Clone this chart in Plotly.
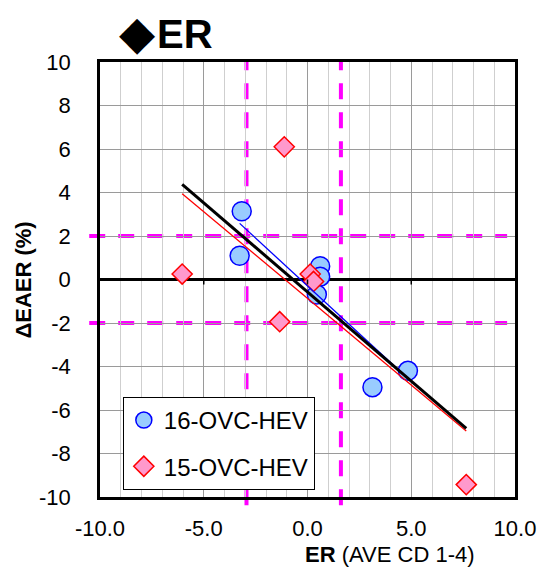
import numpy as np
import plotly.graph_objects as go

# Scatter data: ER (AVE CD 1-4) vs ΔEAER (%)
hev16_er = [-3.17, -3.27, 0.61, 0.61, 0.45, 3.13, 4.84]
hev16_dEAER = [3.14, 1.09, 0.61, 0.13, -0.69, -4.95, -4.20]

hev15_er = [-6.04, -1.12, -1.34, 0.13, 0.29, 7.65]
hev15_dEAER = [0.25, 6.10, -1.94, 0.25, -0.09, -9.43]

# Guide lines
er_limits = [-2.94, 1.61]
deaer_limits = [-2.0, 2.0]

x_ticks = [-10, -5, 0, 5, 10]
y_ticks = [-10, -8, -6, -4, -2, 0, 2, 4, 6, 8, 10]

FONT = "Liberation Sans, Arial, sans-serif"
MAGENTA = "#ff00ff"


def fit_line(xs, ys):
    xs = np.asarray(xs, float)
    ys = np.asarray(ys, float)
    slope, icpt = np.polyfit(xs, ys, 1)
    xr = np.array([xs.min(), xs.max()])
    return xr, slope * xr + icpt


fig = go.Figure()

fig.add_trace(go.Scatter(
    x=hev16_er, y=hev16_dEAER, mode="markers", name="16-OVC-HEV",
    legendgroup="a",
    marker=dict(symbol="circle", size=19, color="#99ccff",
                line=dict(color="#0000ff", width=1.5)),
))
fig.add_trace(go.Scatter(
    x=hev15_er, y=hev15_dEAER, mode="markers", name="15-OVC-HEV",
    legendgroup="b",
    marker=dict(symbol="diamond", size=15.5, color="#ff99cc",
                line=dict(color="#ff0000", width=1.5)),
))

# Linear trend lines (per series and combined)
bx, by = fit_line(hev16_er, hev16_dEAER)
rx, ry = fit_line(hev15_er, hev15_dEAER)
ax_, ay_ = fit_line(hev16_er + hev15_er, hev16_dEAER + hev15_dEAER)
fig.add_trace(go.Scatter(x=bx, y=by, mode="lines", showlegend=False,
                         line=dict(color="#0000ff", width=1.3)))
fig.add_trace(go.Scatter(x=rx, y=ry, mode="lines", showlegend=False,
                         line=dict(color="#ff0000", width=1.3)))
fig.add_trace(go.Scatter(x=ax_, y=ay_, mode="lines", showlegend=False,
                         line=dict(color="#000000", width=3)))

shapes = []
for yv in deaer_limits:
    shapes.append(dict(type="line", xref="paper", yref="y",
                       x0=-0.026, x1=0.981, y0=yv, y1=yv, layer="below",
                       line=dict(color=MAGENTA, width=4, dash="16px,13px")))
for xv in er_limits:
    shapes.append(dict(type="line", xref="x", yref="paper",
                       x0=xv, x1=xv, y0=-0.019, y1=1.0, layer="below",
                       line=dict(color=MAGENTA, width=4, dash="16px,13px")))
# small tick marks on the zero line
for xv in [-5, 0, 5]:
    shapes.append(dict(type="line", xref="x", yref="paper",
                       x0=xv, x1=xv, y0=0.5, y1=0.5 - 5 / 435, layer="above",
                       line=dict(color="#000000", width=1.5)))

annotations = [
    dict(text="◆", xref="paper", yref="paper", x=0.04, y=1.068,
         xanchor="left", yanchor="middle", showarrow=False,
         font=dict(size=47, color="#000000", family="DejaVu Sans")),
    dict(text="<b>ER</b>", xref="paper", yref="paper", x=0.133, y=1.064,
         xanchor="left", yanchor="middle", showarrow=False,
         font=dict(size=40, color="#000000", family=FONT)),
    dict(text="<b>ΔEAER (%)</b>", xref="paper", yref="paper", x=-0.185, y=0.498,
         xanchor="center", yanchor="middle", showarrow=False, textangle=-90,
         font=dict(size=22, color="#000000", family=FONT)),
    dict(text="<b>ER</b> (AVE CD 1-4)", xref="paper", yref="paper", x=0.698, y=-0.132,
         xanchor="center", yanchor="middle", showarrow=False,
         font=dict(size=22, color="#000000", family=FONT)),
]

fig.update_layout(
    width=548, height=570,
    margin=dict(l=100, r=27, t=62, b=73),
    paper_bgcolor="white", plot_bgcolor="white",
    font=dict(family=FONT, size=22, color="#000000"),
    showlegend=True,
    legend=dict(x=0.055, y=0.23, xanchor="left", yanchor="top",
                bgcolor="white", bordercolor="#000000", borderwidth=1,
                font=dict(size=24, family=FONT), traceorder="grouped",
                tracegroupgap=12),
    shapes=shapes,
    annotations=annotations,
    xaxis=dict(range=[-10, 10], tickvals=x_ticks,
               ticktext=[f"{v:.1f}" for v in x_ticks],
               showgrid=True, gridcolor="#9a9a9a", gridwidth=1,
               minor=dict(dtick=1, showgrid=True, gridcolor="#cfcfcf", gridwidth=1),
               zeroline=False, showline=True, linecolor="#000000", linewidth=2.5,
               mirror=True, ticks="", ticklabelstandoff=10,
               tickfont=dict(size=22)),
    yaxis=dict(range=[-10, 10], tickvals=y_ticks,
               ticktext=[str(v) for v in y_ticks],
               showgrid=True, gridcolor="#9a9a9a", gridwidth=1,
               zeroline=True, zerolinecolor="#000000", zerolinewidth=2.5,
               showline=True, linecolor="#000000", linewidth=2.5,
               mirror=True, ticks="", ticklabelstandoff=22,
               tickfont=dict(size=22)),
)

fig.write_html("out.html")
